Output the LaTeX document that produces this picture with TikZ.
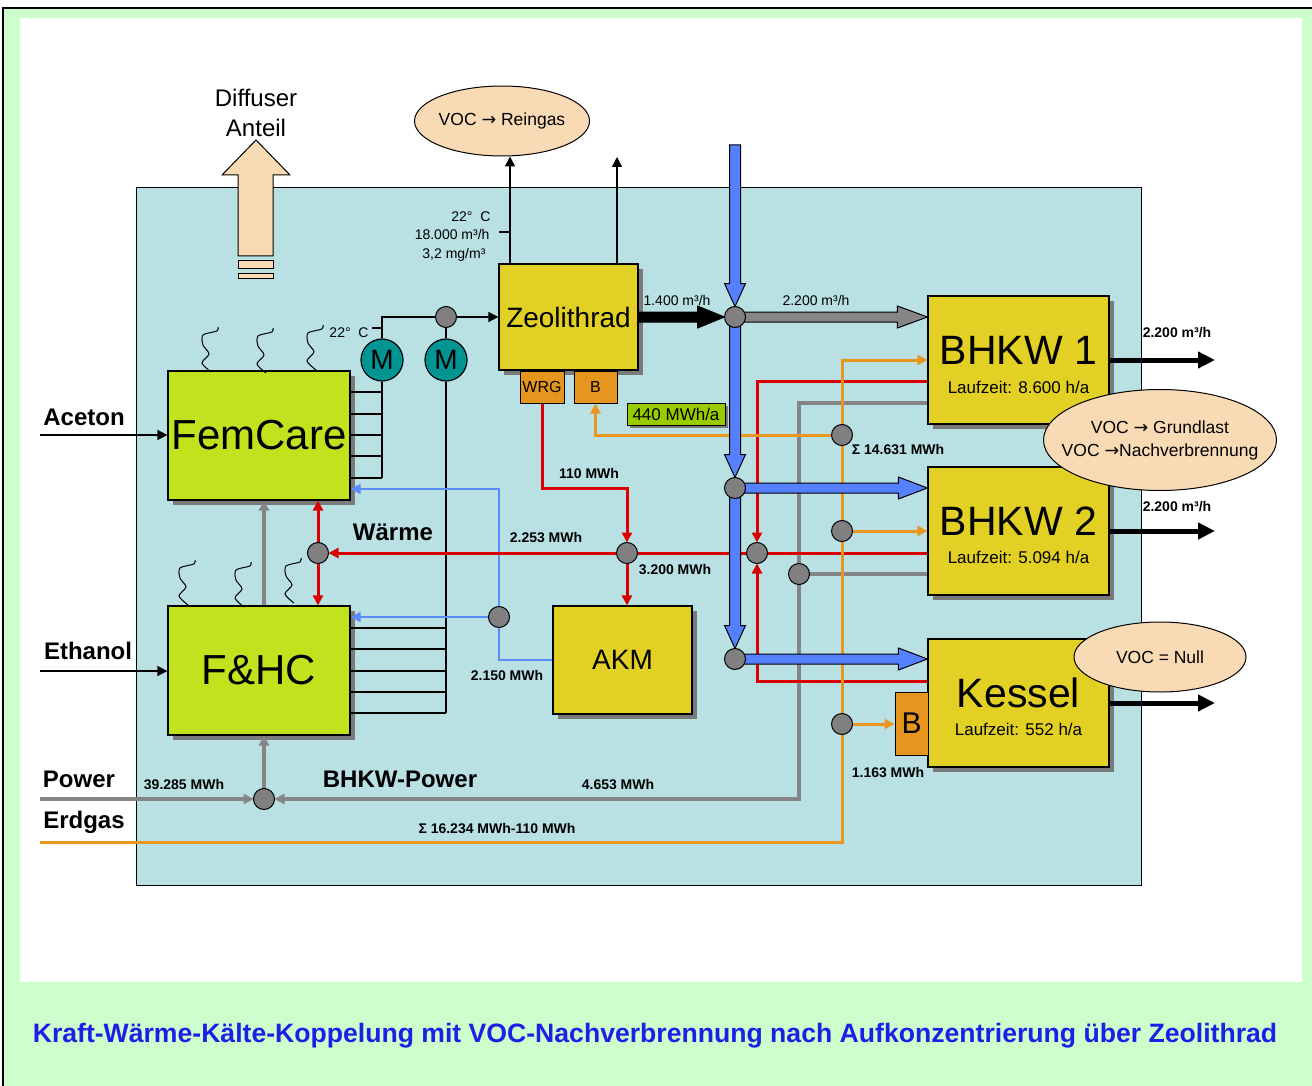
\documentclass[tikz,border=0pt]{standalone}
\usepackage{fontspec}
\setmainfont{Liberation Sans}
\newfontfamily\arrowfont{DejaVu Sans}
\usetikzlibrary{arrows.meta,calc,shapes.geometric,shadows}

\definecolor{framegreen}{HTML}{CCFFCC}
\definecolor{panel}{HTML}{B9E0E3}
\definecolor{lime}{HTML}{C0E31E}
\definecolor{zeoyel}{HTML}{E2D024}
\definecolor{boxorange}{HTML}{E6951E}
\definecolor{flowred}{HTML}{D90000}
\definecolor{floworange}{HTML}{E8961E}
\definecolor{flowgray}{HTML}{858585}
\definecolor{coolblue}{HTML}{5B8CFF}
\definecolor{fatblue}{HTML}{5580FF}
\definecolor{motorteal}{HTML}{009593}
\definecolor{peach}{HTML}{F8DBB4}
\definecolor{titleblue}{HTML}{1E1EE6}
\definecolor{mwhgreen}{HTML}{99CC00}
\definecolor{jgray}{HTML}{808080}
\definecolor{shade}{HTML}{7A7A7A}

\newcommand\vocto{{\arrowfont →}}

% block arrow: [style]{from}{to}{half shaft}{head length}{half head}
\newcommand\fatarrow[6][]{%
  \coordinate (fa-a) at (#2);
  \coordinate (fa-b) at (#3);
  \coordinate (fa-n) at ($(fa-b)!#5!(fa-a)$);
  \draw[line width=1pt, line join=miter, #1]
    ($(fa-a)!#4!90:(fa-b)$) -- ($(fa-n)!#4!-90:(fa-a)$) -- ($(fa-n)!#6!-90:(fa-a)$)
    -- (fa-b) -- ($(fa-n)!#6!90:(fa-a)$) -- ($(fa-n)!#4!90:(fa-a)$)
    -- ($(fa-a)!#4!-90:(fa-b)$) -- cycle;}

\tikzset{
  unit/.style={draw, line width=1.2pt, inner sep=0pt,
    drop shadow={shadow xshift=5pt, shadow yshift=-5pt, fill=shade, opacity=1}},
  plant/.style={unit, fill=lime, minimum width=182pt, minimum height=129pt,
    font=\fontsize{42}{46}\selectfont},
  machine/.style={unit, fill=zeoyel},
  chp/.style={machine, minimum width=181pt, minimum height=128pt},
  chptitle/.style={font=\fontsize{41}{44}\selectfont},
  runtime/.style={font=\fontsize{17}{20}\selectfont},
  aux/.style={draw, line width=1pt, fill=boxorange, inner sep=0pt},
  motor/.style={circle, draw, line width=1.2pt, fill=motorteal, minimum size=42pt,
    inner sep=0pt, font=\fontsize{28}{30}\selectfont},
  junc/.style={circle, draw, line width=1pt, fill=jgray, minimum size=21pt, inner sep=0pt},
  voc/.style={ellipse, draw, line width=1pt, fill=peach, inner sep=0pt},
  voctxt/.style={align=center, inner sep=0pt, font=\fontsize{17.5}{23}\selectfont},
  mwhbox/.style={draw, line width=1pt, fill=mwhgreen, minimum width=98pt, minimum height=22pt,
    inner sep=0pt, font=\fontsize{17}{19}\selectfont,
    drop shadow={shadow xshift=3pt, shadow yshift=-3pt, fill=shade, opacity=1}},
  stream/.style={font=\bfseries\fontsize{24}{28}\selectfont},
  energy/.style={font=\bfseries\fontsize{14}{16}\selectfont},
  flowtxt/.style={font=\fontsize{14}{16}\selectfont},
  caption/.style={text=titleblue, font=\bfseries\fontsize{26.6}{30}\selectfont},
  wire/.style={line width=1.5pt},
  redflow/.style={draw=flowred, line width=3pt},
  gasflow/.style={draw=floworange, line width=3pt},
  powerflow/.style={draw=flowgray, line width=4pt},
  coolflow/.style={draw=coolblue, line width=2pt},
  outflow/.style={line width=5pt, -{Triangle[length=17pt,width=16pt]}},
  intojunc/.style={shorten >=10.5pt},
  fume/.pic={\draw[line width=1pt] plot[smooth, tension=0.5]
    coordinates {(16,0) (15,4) (1,8) (1,18) (7,27) (0,36) (9,45)};}
}

\begin{document}
\begin{tikzpicture}[x=1pt, y=-1pt, >={Triangle[length=10pt,width=10pt]}]
\useasboundingbox (0,0) rectangle (1312,1086);
% frame and panel
\draw[fill=framegreen, line width=1.5pt] (3,8) rectangle (1330,1100);
\fill[white] (20,18) rectangle (1302,982);
\node[caption] (title) at (655,1036) {Kraft-Wärme-Kälte-Koppelung mit VOC-Nachverbrennung nach Aufkonzentrierung über Zeolithrad};
\draw[fill=panel, line width=1pt] (136,188) rectangle (1141,885);

% diffuse exhaust
\draw[fill=peach, line width=1pt] (238,256) -- (238,175) -- (222,175) -- (256,140)
  -- (290,175) -- (273,175) -- (273,256) -- cycle;
\draw[fill=peach, line width=1pt] (238,260) rectangle (273,268) (238,273) rectangle (273,278);
\node[align=center, font=\fontsize{24}{30}\selectfont] (diffuse) at (256,113) {Diffuser\\Anteil};

% units
\node[plant] (femcare) at (259,435.5) {FemCare};
\node[plant] (fhc) at (259,670.5) {F\&HC};
\foreach \fx/\fy in {202/327, 257/328, 307/325, 179/560, 235/562, 285/558}
  \pic at (\fx,\fy) {fume};
\node[machine, minimum width=139pt, minimum height=106pt, font=\fontsize{28}{30}\selectfont] (zeo) at (568.5,317) {Zeolithrad};
\node[aux, minimum width=44pt, minimum height=32pt, font=\fontsize{16}{18}\selectfont] (wrg) at (542,387) {WRG};
\node[aux, minimum width=43pt, minimum height=32pt, font=\fontsize{16}{18}\selectfont] (bz) at (595.5,387) {B};
\node[machine, minimum width=139pt, minimum height=108pt, font=\fontsize{28}{30}\selectfont] (akm) at (622.5,660) {AKM};
\node[chp] (bhkw1) at (1018.5,360) {};
\node[chp] (bhkw2) at (1018.5,531) {};
\node[chp] (kessel) at (1018.5,703) {};
\node[aux, minimum width=33pt, minimum height=63pt, font=\fontsize{30}{32}\selectfont] (bk) at (911.5,723.5) {B};
\node[chptitle] (bhkw1-name) at ($(bhkw1)+(0,-10)$) {BHKW 1};
\node[runtime] (bhkw1-time) at ($(bhkw1)+(0,27)$) {Laufzeit: 8.600 h/a};
\node[chptitle] (bhkw2-name) at ($(bhkw2)+(0,-10)$) {BHKW 2};
\node[runtime] (bhkw2-time) at ($(bhkw2)+(0,26)$) {Laufzeit: 5.094 h/a};
\node[chptitle] (kessel-name) at ($(kessel)+(0,-10)$) {Kessel};
\node[runtime] (kessel-time) at ($(kessel)+(0,26)$) {Laufzeit: 552 h/a};
\node[motor] (m1) at (382,360) {M};
\node[motor] (m2) at (446,360) {M};
\node[mwhbox] (zeo-heat) at (676,414) {440 MWh/a};

% VOC balloons
\node[voc, minimum width=175pt, minimum height=70pt] (reingas) at (502,121) {};
\node[voctxt] (reingas-txt) at (reingas) {VOC \vocto{} Reingas};
\node[voc, minimum width=233pt, minimum height=101pt] (grundlast) at (1160,440) {};
\node[voctxt] (grundlast-txt) at (grundlast) {VOC \vocto{} Grundlast\\VOC \vocto{}Nachverbrennung};
\node[voc, minimum width=172pt, minimum height=70pt] (null) at (1160,657) {};
\node[voctxt] (null-txt) at (null) {VOC = Null};

% junctions
\coordinate (jz) at (446,317);
\coordinate (jb1) at (735,317);
\coordinate (jb2) at (735,488);
\coordinate (jb3) at (735,659);
\coordinate (jr1) at (318,553);
\coordinate (jr2) at (627,553);
\coordinate (jr3) at (757,553);
\coordinate (jo1) at (842,435);
\coordinate (jo2) at (842,531);
\coordinate (jo3) at (842,724);
\coordinate (jg1) at (799,574);
\coordinate (jg2) at (264,799);
\coordinate (jbl) at (499,617);
\coordinate (aceton-in) at (40,435);
\coordinate (ethanol-in) at (40,671);
\coordinate (power-in) at (40,799);
\coordinate (erdgas-in) at (40,842);
\coordinate (exhaust) at (617,157);
\coordinate (coolin) at (735,145);
\coordinate (out1) at (1215,360);
\coordinate (out2) at (1215,531);
\coordinate (out3) at (1215,703);

% solvent air
\draw[wire,->] (aceton-in) -- (femcare.west |- aceton-in);
\draw[wire,->] (ethanol-in) -- (fhc.west |- ethanol-in);
\draw[wire] (m1.north) |- (jz);
\draw[wire] (m2.north) -- (jz);
\draw[wire,->] (jz) -- (zeo.west);
\draw[wire] (m1.south) -- (m1 |- 0,478);
\foreach \yy in {392,414,435,456,478}
  \draw[wire] (femcare.east |- 0,\yy) -- (m1 |- 0,\yy);
\draw[wire] (m2.south) -- (m2 |- 0,713);
\foreach \yy in {628,649,671,692,713}
  \draw[wire] (fhc.east |- 0,\yy) -- (m2 |- 0,\yy);
\draw[wire,->] (zeo.north -| 510,0) -- (reingas.south -| 510,0);
\draw[wire,->] (zeo.north -| exhaust) -- (exhaust);
\draw[wire] (499,232) -- (510,232);
\draw[wire] (372,328) -- (382,328);

% power
\draw[powerflow,->,intojunc] (bhkw1.west |- 0,403) -| (jg1 |- jg2) -- (jg2);
\draw[powerflow] (jg1) -- (bhkw2.west |- jg1);
\draw[powerflow,->,intojunc] (power-in) -- (jg2);
\draw[powerflow,->] (jg2) -- (fhc.south -| jg2);
\draw[powerflow,->] (fhc.north -| jg2) -- (femcare.south -| jg2);

% cold
\draw[coolflow,->] (akm.west) -| (jbl |- 0,489) -- (femcare.east |- 0,489);
\draw[coolflow,->] (jbl) -- (fhc.east |- jbl);

% heat
\draw[redflow,->,intojunc] (wrg.south) |- (jr2 |- 0,488) -- (jr2);
\draw[redflow,->] (jr2) -- (akm.north -| jr2);
\draw[redflow,->,intojunc] (bhkw2.west |- jr3) -- (jr1);
\draw[redflow,->,intojunc] (bhkw1.west |- 0,381) -| (jr3);
\draw[redflow,->,intojunc] (kessel.west |- 0,681) -| (jr3);
\draw[redflow,->] (jr1) -- (femcare.south -| jr1);
\draw[redflow,->] (jr1) -- (fhc.north -| jr1);

% gas
\draw[gasflow,->] (erdgas-in) -| (jo1 |- bhkw1.west) -- (bhkw1.west);
\draw[gasflow,->] (jo1) -| (bz.south);
\draw[gasflow,->] (jo2) -- (bhkw2.west |- jo2);
\draw[gasflow,->] (jo3) -- (bk.west |- jo3);

% concentrate and exhaust
\fatarrow[fill=black]{zeo.east}{$(jb1)+(-10.5,0)$}{5pt}{27pt}{11pt}
\fatarrow[fill=flowgray]{jb1}{bhkw1.west |- jb1}{5pt}{30pt}{11pt}
\fatarrow[fill=fatblue]{coolin}{$(jb1)+(0,-10.5)$}{5.5pt}{23pt}{10.5pt}
\fatarrow[fill=fatblue]{jb1}{$(jb2)+(0,-10.5)$}{5.5pt}{23pt}{10.5pt}
\fatarrow[fill=fatblue]{jb2}{$(jb3)+(0,-10.5)$}{5.5pt}{23pt}{10.5pt}
\fatarrow[fill=fatblue]{jb2}{bhkw2.west |- jb2}{5pt}{29pt}{11pt}
\fatarrow[fill=fatblue]{jb3}{kessel.west |- jb3}{5pt}{29pt}{11pt}
\draw[outflow] (bhkw1.east |- out1) -- (out1);
\draw[outflow] (bhkw2.east |- out2) -- (out2);
\draw[outflow] (kessel.east |- out3) -- (out3);

\foreach \j in {jz,jb1,jb2,jb3,jr1,jr2,jr3,jo1,jo2,jo3,jg1,jg2,jbl}
  \node[junc] (\j-dot) at (\j) {};

% labels
\node[flowtxt, anchor=east] (zeo-temp) at (494,217) {22°\ \ C};
\node[flowtxt, anchor=east] (zeo-flow) at (493,234) {18.000 m³/h};
\node[flowtxt, anchor=east] (zeo-conc) at (489,255) {3,2 mg/m³};
\node[flowtxt] (femcare-temp) at (349,333) {22°\ \ C};
\node[flowtxt] (conc-flow) at (677,300) {1.400 m³/h};
\node[flowtxt] (mix-flow) at (816,300) {2.200 m³/h};
\node[energy] (bhkw1-out) at (1177,333) {2.200 m³/h};
\node[energy] (bhkw2-out) at (1177,507) {2.200 m³/h};
\node[energy] (gas-chp) at (898,450) {Σ 14.631 MWh};
\node[energy] (wrg-heat) at (589,473) {110 MWh};
\node[energy] (heat-prod) at (546,538) {2.253 MWh};
\node[energy] (heat-akm) at (675,570) {3.200 MWh};
\node[energy] (cold) at (507,675) {2.150 MWh};
\node[stream] (heat) at (393,532) {Wärme};
\node[energy] (gas-boiler) at (888,773) {1.163 MWh};
\node[energy] (grid) at (184,785) {39.285 MWh};
\node[stream] (chp-power) at (400,779) {BHKW-Power};
\node[energy] (chp-el) at (618,785) {4.653 MWh};
\node[energy] (gas-total) at (497,828) {Σ 16.234 MWh-110 MWh};
\node[stream] (aceton) at (84,417) {Aceton};
\node[stream] (ethanol) at (88,651) {Ethanol};
\node[stream] (power) at (79,779) {Power};
\node[stream] (erdgas) at (84,822) {Erdgas};
\end{tikzpicture}
\end{document}
